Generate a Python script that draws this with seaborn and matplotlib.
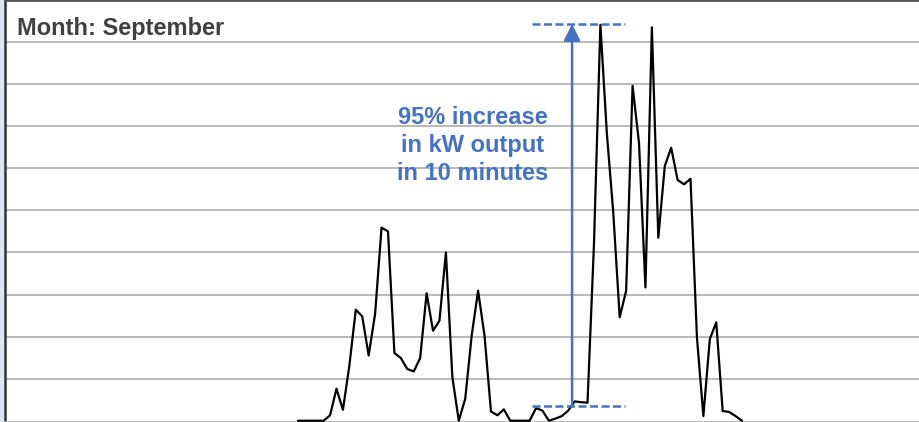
import numpy as np
import pandas as pd
import matplotlib
matplotlib.use("Agg")
import matplotlib.pyplot as plt
import seaborn as sns

# 10-minute intervals over one day; only daylight readings are logged
month_label = "Month: September"
annotation_lines = ["95% increase", "in kW output", "in 10 minutes"]

first_interval = 45
kw_output = [
    0.00, 0.00, 0.00, 0.00,
    0.00, 0.13, 0.76, 0.26, 1.31, 2.64, 2.48, 1.55, 2.54, 4.59,
    4.50, 1.61, 1.49, 1.23, 1.17, 1.49, 3.03, 2.14, 2.38, 4.00,
    1.04, 0.00, 0.52, 2.02, 3.09, 2.02, 0.22, 0.13, 0.27, 0.00,
    0.00, 0.00, 0.00, 0.30, 0.24, 0.00, 0.05, 0.11, 0.24, 0.46,
    0.44, 0.43, 4.19, 9.41, 6.84, 4.95, 2.46, 3.09, 7.96, 6.60,
    3.17, 9.35, 4.35, 6.05, 6.49, 5.72, 5.62, 5.75, 1.98, 0.11,
    1.94, 2.34, 0.23, 0.21, 0.11, 0.00,
]
interval = list(range(first_interval, first_interval + len(kw_output)))

# step annotation (before / after the jump)
jump_start, jump_end = 81.4, 95.9
jump_x = 87.6
kw_low, kw_high = 0.36, 9.43

df = pd.DataFrame({"interval": interval, "kw": kw_output})

sns.set_style("white")
plt.rcParams["font.family"] = ["Liberation Sans", "DejaVu Sans"]

blue = "#4472C4"

fig = plt.figure(figsize=(9.19, 4.22), dpi=100, facecolor="#dce6f2")
ax = fig.add_axes([5 / 919, 0, 914 / 919, 1])
ax.set_facecolor("white")

for g in range(1, 10):
    ax.axhline(g, color="#b3b3b3", lw=1.3, zorder=0)

sns.lineplot(data=df, x="interval", y="kw", ax=ax, color="black", lw=1.6, zorder=3)

ax.set_xlim(-0.5, 141.4)
ax.set_ylim(-0.03, 10)
ax.set_xlabel("")
ax.set_ylabel("")
ax.set_yticks([])
ax.set_xticks([])
ax.set_xticks(np.arange(-0.5, 142, 1), minor=True)
ax.tick_params(axis="x", which="minor", direction="in", length=2, color="#b3b3b3", width=0.8)

ax.spines["right"].set_visible(False)
ax.spines["left"].set_color("#333333")
ax.spines["left"].set_linewidth(1.8)
ax.spines["top"].set_color("#555555")
ax.spines["top"].set_linewidth(2)
ax.spines["bottom"].set_color("#b3b3b3")
ax.spines["bottom"].set_linewidth(1.2)

# dashed guides and the arrow
for level in [kw_low, kw_high]:
    ax.plot([jump_start, jump_end], [level, level], color=blue, lw=1.8,
            linestyle=(0, (3.2, 1.4)), zorder=4)
ax.annotate("", xy=(jump_x, kw_high), xytext=(jump_x, kw_low),
            arrowprops=dict(arrowstyle="-|>,head_length=1.0,head_width=0.5",
                            color=blue, lw=1.8, shrinkA=0, shrinkB=0), zorder=4)

text_x = 72.2
for k, line in enumerate(annotation_lines):
    ax.text(text_x, 7.06 - k * 0.675, line, ha="center", va="baseline",
            color=blue, fontsize=17, fontweight="bold", zorder=5)

fig.text(17 / 919, 1 - 35 / 422, month_label, ha="left", va="baseline",
         color="#404040", fontsize=17, fontweight="bold")

fig.savefig("out.png", dpi=100, facecolor=fig.get_facecolor())
